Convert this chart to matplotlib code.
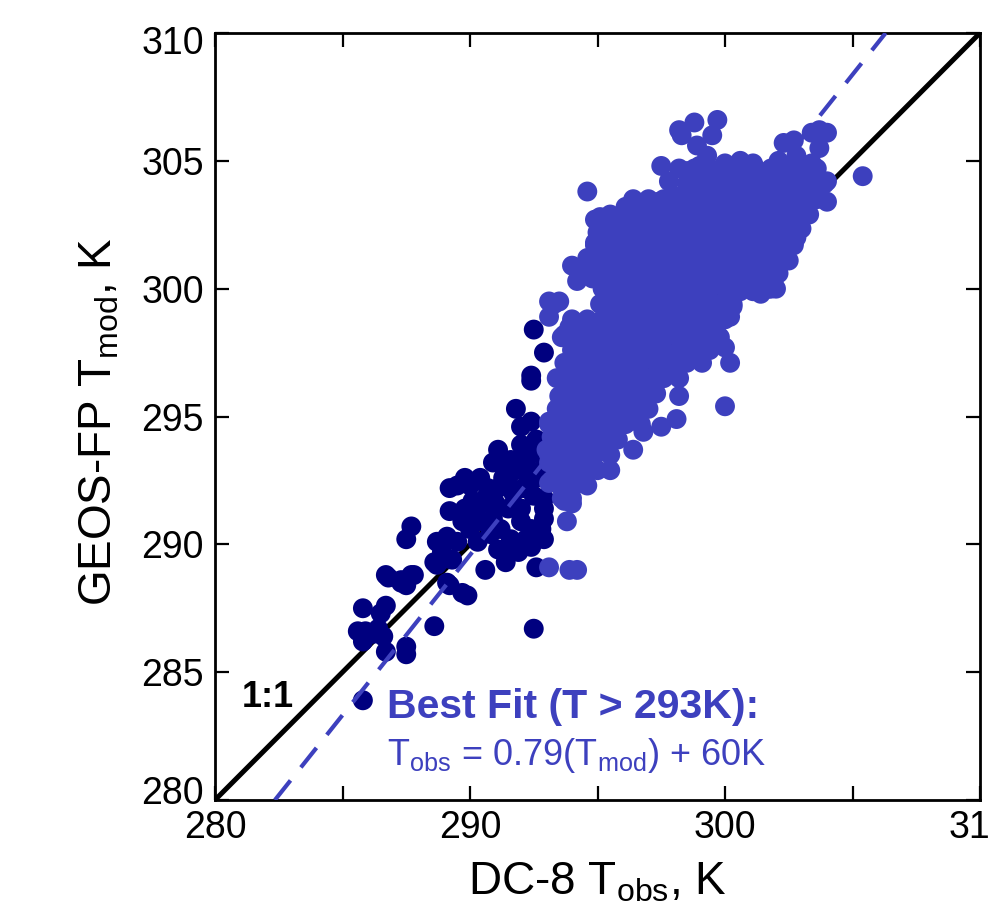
import matplotlib
matplotlib.use("Agg")
import matplotlib.pyplot as plt
from matplotlib.transforms import ScaledTranslation

plt.rcParams['font.family'] = ['Liberation Sans', 'DejaVu Sans']
plt.rcParams['mathtext.fontset'] = 'custom'
plt.rcParams['mathtext.rm'] = 'Liberation Sans'
plt.rcParams['mathtext.it'] = 'Liberation Sans:italic'
plt.rcParams['mathtext.bf'] = 'Liberation Sans:bold'

# ---------------- data (K) ----------------
# DC-8 observed T (x) vs GEOS-FP model T (y), observations below 293 K
dark_obs = [285.8, 286.7, 286.5, 285.6, 285.9, 286.2, 286.4, 286.6, 285.8, 286.7, 287.5, 287.5,
            288.6, 286.7, 287.3, 287.7, 287.5, 288.6, 288.9, 289.1, 289.7, 285.8,
            292.4, 291.8, 292.4, 292.0, 292.6, 291.1, 290.9, 292.2, 291.8, 289.2, 289.5, 290.0,
            290.4, 290.7, 290.1, 291.1, 291.5, 291.7, 292.1, 292.5, 292.6, 289.2, 289.7, 290.4,
            290.9, 291.5, 292.0, 292.4, 292.9, 287.7, 287.5, 288.7, 289.1, 289.5, 288.9, 289.3,
            288.7, 290.3, 291.1, 291.5, 291.4, 290.6, 292.6, 289.2, 289.9, 286.8, 287.3, 287.8,
            292.5, 292.5, 292.9, 292.4,
            292.8, 292.8, 292.2, 291.4, 291.6, 292.0, 292.9, 292.9, 292.8, 292.9, 292.2, 292.0,
            291.0, 290.6, 289.8, 290.0, 290.8, 291.6,
            289.8, 290.3, 291.2, 292.4, 291.9, 290.5, 291.3, 292.3]
dark_mod = [287.5, 287.6, 287.3, 286.6, 286.6, 286.5, 286.7, 286.4, 286.2, 285.8, 286.0, 285.7,
            286.8, 288.8, 288.6, 288.8, 288.4, 289.3, 289.4, 288.5, 288.1, 283.9,
            296.4, 295.3, 294.8, 294.6, 294.1, 293.7, 293.2, 293.3, 292.9, 292.2, 292.3, 292.3,
            292.6, 292.2, 291.7, 292.2, 292.4, 292.0, 292.2, 291.9, 292.6, 291.3, 290.9, 290.9,
            291.0, 291.4, 290.9, 290.6, 291.4, 290.7, 290.2, 290.1, 290.3, 290.1, 289.7, 289.4,
            289.2, 290.1, 289.8, 289.9, 289.3, 289.0, 289.1, 288.4, 288.0, 288.7, 288.5, 288.8,
            286.7, 298.4, 297.5, 296.6,
            293.5, 292.9, 292.8, 292.8, 293.3, 293.9, 291.8, 291.0, 290.6, 290.2, 290.2, 291.4,
            291.6, 291.8, 291.4, 290.6, 290.4, 290.2,
            292.6, 291.0, 290.6, 289.9, 289.7, 291.6, 292.6, 293.6]

# observations above 293 K: scattered individual points
light_obs = [294.0, 294.2, 294.8, 295.2, 293.1, 293.5, 293.1, 293.9, 293.6, 294.3, 294.1, 294.6,
             294.0, 293.5, 293.1, 293.2, 293.0, 293.1, 293.2, 293.6, 294.6, 295.5, 296.4, 296.8,
             297.5, 298.1, 298.2, 300.0, 300.2, 300.0, 299.5, 300.2, 300.3, 301.4, 301.9, 301.6,
             301.1, 293.1, 293.9, 294.2, 293.8, 294.0, 293.7, 294.6, 294.9, 295.9, 296.1, 295.0,
             294.9, 295.5, 296.7, 296.4, 297.4, 298.1, 298.6, 299.0, 298.6, 297.9, 297.3, 296.0,
             295.1, 295.3, 295.6, 295.1, 296.8, 297.6, 299.6, 299.9, 300.5, 301.5, 302.4, 302.9,
             304.0, 304.0, 302.3, 302.7, 302.5, 301.9, 302.0, 301.2, 300.6, 299.8, 299.4, 298.2,
             298.3, 298.8, 299.7, 299.5, 298.9, 297.5, 299.3, 299.0, 298.5, 299.1, 297.8, 300.0,
             300.6, 301.1, 301.9, 302.3, 302.7, 303.4, 303.7, 303.7, 304.0, 302.1, 302.8, 303.4,
             303.5, 305.4, 303.3, 303.0, 302.7, 302.8, 302.2, 301.7, 301.1]
light_mod = [300.9, 300.3, 300.4, 300.5, 299.5, 299.5, 298.9, 298.5, 298.1, 298.1, 297.5, 297.6,
             296.9, 295.8, 294.8, 294.2, 293.7, 293.2, 292.5, 292.2, 292.3, 292.9, 293.7, 294.4,
             294.6, 294.9, 295.8, 295.4, 297.1, 297.7, 298.2, 298.9, 299.3, 299.8, 300.2, 301.0,
             301.1, 289.1, 289.0, 289.0, 290.9, 291.6, 291.7, 303.8, 302.7, 302.5, 303.2, 302.2,
             301.7, 301.8, 303.3, 303.2, 303.4, 303.6, 303.5, 303.1, 302.7, 302.4, 302.8, 302.4,
             302.8, 300.6, 299.8, 299.4, 301.7, 301.9, 303.1, 303.9, 304.2, 303.9, 304.2, 303.5,
             304.2, 303.4, 302.2, 301.7, 301.1, 301.3, 300.0, 300.0, 299.9, 298.1, 298.6, 306.2,
             306.0, 306.5, 306.6, 306.0, 305.6, 304.8, 305.2, 304.8, 304.6, 304.5, 304.2, 304.9,
             305.0, 304.9, 304.4, 305.7, 305.8, 306.1, 305.5, 306.2, 306.1, 305.0, 305.2, 304.9,
             304.6, 304.4, 303.5, 303.9, 302.6, 302.0, 301.1, 300.0, 299.9]

# observations above 293 K: dense core, read row by row (model T of the row, observed T list)
core_mod = [304.7, 304.1, 303.5, 302.9, 302.35, 301.8, 301.2, 300.6, 300.0, 299.4, 298.8,
            298.2, 297.6, 297.1, 296.5, 295.9, 295.3, 294.7, 294.1, 293.5, 292.9, 292.4, 291.8]
core_obs = [
    [298.2, 298.8, 299.4, 300.0, 300.6, 301.2, 301.8, 302.4, 303.0, 303.6],
    [298.5, 299.1, 299.7, 300.3, 300.9, 301.5, 302.1, 302.7, 303.3, 303.9],
    [296.4, 297.0, 297.6, 298.2, 298.8, 299.4, 300.0, 300.6, 301.2, 301.8, 302.4, 303.0, 303.6],
    [295.5, 296.1, 296.7, 297.3, 297.9, 298.5, 299.1, 299.7, 300.3, 300.9, 301.5, 302.1, 302.7,
     303.3],
    [295.2, 295.8, 296.4, 297.0, 297.6, 298.2, 298.8, 299.4, 300.0, 300.6, 301.2, 301.8, 302.4,
     303.0],
    [294.9, 295.5, 296.1, 296.7, 297.3, 297.9, 298.5, 299.1, 299.7, 300.3, 300.9, 301.5, 302.1,
     302.7],
    [294.6, 295.2, 295.8, 296.4, 297.0, 297.6, 298.2, 298.8, 299.4, 300.0, 300.6, 301.2, 301.8,
     302.4],
    [294.3, 294.9, 295.5, 296.1, 296.7, 297.3, 297.9, 298.5, 299.1, 299.7, 300.3, 300.9, 301.5,
     302.1],
    [295.2, 295.8, 296.4, 297.0, 297.6, 298.2, 298.8, 299.4, 300.0, 300.6, 301.2, 301.8],
    [293.3, 295.5, 296.1, 296.7, 297.3, 297.9, 298.5, 299.1, 299.7, 300.3],
    [294.0, 294.6, 295.2, 295.8, 296.4, 297.0, 297.6, 298.2, 298.8, 299.4, 300.0],
    [293.7, 294.3, 294.9, 295.5, 296.1, 296.7, 297.3, 297.9, 298.5, 299.1, 299.7],
    [294.0, 294.6, 295.2, 295.8, 296.4, 297.0, 297.6, 298.2, 298.8, 299.4],
    [293.7, 294.3, 294.9, 295.5, 296.1, 296.7, 297.3, 297.9, 298.5, 299.1],
    [293.4, 294.0, 294.6, 295.2, 295.8, 296.4, 297.0, 297.6, 298.2],
    [293.7, 294.3, 294.9, 295.5, 296.1, 296.7, 297.3],
    [293.4, 294.0, 294.6, 295.2, 295.8, 296.4, 297.0],
    [293.1, 293.7, 294.3, 294.9, 295.5, 296.1, 296.7],
    [293.4, 294.0, 294.6, 295.2, 295.8],
    [293.1, 293.7, 294.3, 294.9, 295.5],
    [293.4, 294.0, 294.6, 295.0],
    [293.1, 293.7, 294.3],
    [293.6, 294.0],
]

# reference lines
one_to_one = [280.0, 310.0]
fit_obs = [282.35, 306.3]   # dashed best-fit line end points (x)
fit_mod = [280.0, 310.0]    # (y)

xtick_vals = [280, 285, 290, 295, 300, 305, 310]
xtick_labels = ['280', '', '290', '', '300', '', '310']
ytick_vals = [280, 285, 290, 295, 300, 305, 310]
ytick_labels = ['280', '285', '290', '295', '300', '305', '310']

# ---------------- plotting ----------------
C_LIGHT = '#3D40BE'
C_DARK = '#00007F'
MS = 205

fig = plt.figure(figsize=(9.91, 9.21), dpi=100)
ax = fig.add_axes([215/991, 1 - 800/921, 765/991, 767/921])

ax.plot(one_to_one, one_to_one, color='black', lw=3.6, zorder=1, solid_capstyle='butt')

ax.scatter(dark_obs, dark_mod, s=MS, color=C_DARK, edgecolors='none', zorder=2)

core_x = []
core_y = []
for yv, row in zip(core_mod, core_obs):
    core_x.extend(row)
    core_y.extend([yv] * len(row))
ax.scatter(core_x, core_y, s=MS, color=C_LIGHT, edgecolors='none', zorder=3)
ax.scatter(light_obs, light_mod, s=MS, color=C_LIGHT, edgecolors='none', zorder=3)

ax.plot(fit_obs, fit_mod, color=C_LIGHT, lw=3.0, dashes=(6, 4), zorder=4)

ax.set_xlim(280, 310)
ax.set_ylim(280, 310)
ax.set_xticks(xtick_vals)
ax.set_xticklabels(xtick_labels)
ax.set_yticks(ytick_vals)
ax.set_yticklabels(ytick_labels)
ax.tick_params(direction='in', length=10, width=1.6, labelsize=27, top=True, right=True,
               pad=8, colors='black')
ax.tick_params(axis='x', pad=7)
for sp in ax.spines.values():
    sp.set_linewidth(2.0)

# nudge the end labels of the y axis inward, as in the reference
for lab in ax.get_yticklabels():
    if lab.get_text() == '310':
        lab.set_transform(lab.get_transform() + ScaledTranslation(0, -0.07, fig.dpi_scale_trans))
    elif lab.get_text() == '280':
        lab.set_transform(lab.get_transform() + ScaledTranslation(0, 0.10, fig.dpi_scale_trans))

ax.text(281.05, 283.65, '1:1', fontsize=26, fontweight='bold', color='black', ha='left',
        va='baseline', zorder=5)
ax.text(286.75, 283.2, 'Best Fit (T > 293K):', fontsize=29.5, fontweight='bold', color=C_LIGHT,
        ha='left', va='baseline', zorder=5)
ax.text(286.75, 281.37, r'T$_{\rm obs}$ = 0.79(T$_{\rm mod}$) + 60K', fontsize=26,
        color=C_LIGHT, ha='left', va='baseline', zorder=5)

fig.text(597/991, 1 - 894/921, r'DC-8 T$_{\rm obs}$, K', fontsize=33, ha='center',
         va='baseline')
fig.text(112/991, 1 - 422/921, r'GEOS-FP T$_{\rm mod}$, K', fontsize=33, ha='center',
         va='baseline', rotation=90, rotation_mode='anchor')

fig.savefig('out.png', dpi=100)
